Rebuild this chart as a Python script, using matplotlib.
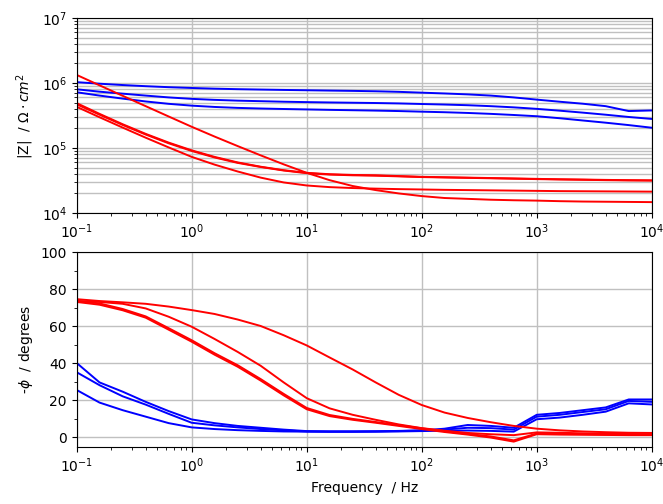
import numpy as np
import matplotlib
matplotlib.use("Agg")
import matplotlib.pyplot as plt
from matplotlib.ticker import LogLocator, MultipleLocator, NullFormatter

# Frequencies (Hz), 5 points per decade
freq = [0.1, 0.158, 0.251, 0.398, 0.631, 1.0, 1.58, 2.51, 3.98, 6.31,
        10, 15.8, 25.1, 39.8, 63.1, 100, 158, 251, 398, 631,
        1000, 1585, 2512, 3981, 6310, 10000]

# |Z| in kOhm*cm^2 -- red series
zmod_red_a = [1330, 920, 635, 440, 305, 212, 150, 107, 77, 56,
              41.5, 32, 26, 22.5, 20, 18.2, 17, 16.5, 16, 15.7,
              15.5, 15.2, 15.0, 14.9, 14.8, 14.7]
zmod_red_b1 = [490, 335, 232, 165, 121, 92, 73, 60, 51.5, 45.5,
               41.5, 39.5, 38.5, 38, 37, 36, 35.5, 35, 34.5, 34,
               33.5, 33, 32.7, 32.3, 32, 31.8]
zmod_red_b2 = [470, 325, 226, 161, 118, 90, 71.5, 59, 51, 45,
               41, 39, 38, 37.5, 36.6, 35.7, 35.2, 34.7, 34.2, 33.7,
               33.2, 32.8, 32.4, 32.0, 31.7, 31.5]
zmod_red_c = [430, 297, 206, 144, 102, 73, 55.5, 43.5, 35, 29.5,
              26.5, 25, 24.2, 23.7, 23.3, 23, 22.7, 22.5, 22.3, 22.1,
              21.9, 21.7, 21.6, 21.5, 21.4, 21.3]

# |Z| in kOhm*cm^2 -- blue series
zmod_blue_t = [1030, 975, 930, 893, 862, 838, 818, 803, 792, 782,
               773, 764, 756, 746, 731, 710, 690, 668, 640, 600,
               555, 515, 480, 440, 370, 378]
zmod_blue_m = [800, 735, 685, 640, 600, 570, 550, 535, 525, 515,
               508, 502, 497, 492, 485, 475, 466, 455, 440, 422,
               400, 375, 350, 325, 300, 280]
zmod_blue_l = [720, 640, 575, 520, 478, 448, 428, 414, 405, 398,
               392, 386, 381, 376, 370, 362, 355, 346, 335, 322,
               308, 287, 265, 245, 225, 205]

# -phase in degrees
phase_red_a = [74.5, 73.5, 72.8, 72, 70.5, 68.6, 66.5, 63.5, 60, 55,
               49.5, 43, 36.5, 29.5, 22.8, 17.3, 13.2, 10.3, 8, 6,
               4.5, 3.6, 3.0, 2.6, 2.3, 2.2]
phase_red_b1 = [73, 71.5, 68.5, 64.5, 58, 51.5, 44.5, 38, 30.5, 22.5,
                15, 11.3, 9.3, 7.7, 6, 4.3, 2.7, 1.3, -0.3, -2.5,
                1.5, 1.3, 1.2, 1.1, 1.0, 1.0]
phase_red_b2 = [73.6, 72.2, 69.2, 65.2, 58.8, 52.3, 45.3, 38.8, 31.3, 23.3,
                15.7, 11.9, 9.8, 8.1, 6.4, 4.7, 3.1, 1.7, 0.3, -1.8,
                1.9, 1.7, 1.6, 1.5, 1.4, 1.4]
phase_red_c = [73.5, 73, 72, 69.5, 65, 59.6, 53, 46, 38.5, 29.5,
               21, 15.5, 12, 9.3, 6.8, 4.8, 3.4, 2.2, 1.5, 1.0,
               2.5, 2.3, 2.0, 1.8, 1.6, 1.5]

phase_blue_l = [40, 29.5, 24.5, 19, 14, 9.5, 7.5, 6, 5, 4,
                3.2, 3, 3, 3, 3.2, 3.5, 4.5, 6.5, 6, 5,
                12, 13, 14.5, 16, 20.3, 20.3]
phase_blue_m = [35, 28, 22, 17.5, 12.5, 7.7, 6.3, 5.2, 4.3, 3.6,
                3, 3, 3, 3.1, 3.3, 3.6, 4, 5, 4.8, 4,
                11, 12, 13.5, 15, 19.5, 19]
phase_blue_t = [25.4, 18.6, 14.5, 11, 7.5, 5.2, 4.3, 3.7, 3.3, 3,
                2.9, 2.8, 2.8, 2.9, 3, 3.2, 3.4, 3.5, 3.3, 2.9,
                9.6, 10.5, 12, 13.7, 18.2, 17.6]

plt.rcParams['font.family'] = ['DejaVu Sans']
plt.rcParams['mathtext.fontset'] = 'dejavusans'
plt.rcParams['font.size'] = 10

fig = plt.figure(figsize=(6.63, 5.04), dpi=100)
ax1 = fig.add_axes([0.1157, 0.5774, 0.8673, 0.3869])
ax2 = fig.add_axes([0.1157, 0.1131, 0.8673, 0.3869])

f = np.array(freq)
red_mag = [zmod_red_a, zmod_red_b1, zmod_red_b2, zmod_red_c]
blue_mag = [zmod_blue_t, zmod_blue_m, zmod_blue_l]
red_ph = [phase_red_a, phase_red_b1, phase_red_b2, phase_red_c]
blue_ph = [phase_blue_l, phase_blue_m, phase_blue_t]

lw = 1.4
for z in blue_mag:
    ax1.plot(f, np.array(z) * 1e3, color='blue', lw=lw)
for z in red_mag:
    ax1.plot(f, np.array(z) * 1e3, color='red', lw=lw)
for p in blue_ph:
    ax2.plot(f, p, color='blue', lw=lw)
for p in red_ph:
    ax2.plot(f, p, color='red', lw=lw)

grid_kw = dict(color='#c0c0c0', lw=1.0)
ax1.set_xscale('log')
ax1.set_yscale('log')
ax1.set_xlim(0.1, 1e4)
ax1.set_ylim(1e4, 1e7)
ax1.yaxis.set_minor_locator(LogLocator(base=10, subs=np.arange(2, 10)))
ax1.yaxis.set_minor_formatter(NullFormatter())
ax1.grid(True, which='major', axis='both', **grid_kw)
ax1.grid(True, which='minor', axis='y', **grid_kw)
ax1.set_axisbelow(True)
ax1.set_ylabel('|Z|  / $\\Omega \\cdot cm^2$')

ax2.set_xscale('log')
ax2.set_xlim(0.1, 1e4)
ax2.set_ylim(-5.4, 100)
ax2.yaxis.set_major_locator(MultipleLocator(20))
ax2.yaxis.set_minor_locator(MultipleLocator(10))
ax2.grid(True, which='major', axis='both', **grid_kw)
ax2.set_axisbelow(True)
ax2.set_ylabel('-$\\phi$  / degrees')
ax2.set_xlabel('Frequency  / Hz')

for ax in (ax1, ax2):
    ax.tick_params(which='both', direction='out')

fig.savefig('out.png', dpi=100)
